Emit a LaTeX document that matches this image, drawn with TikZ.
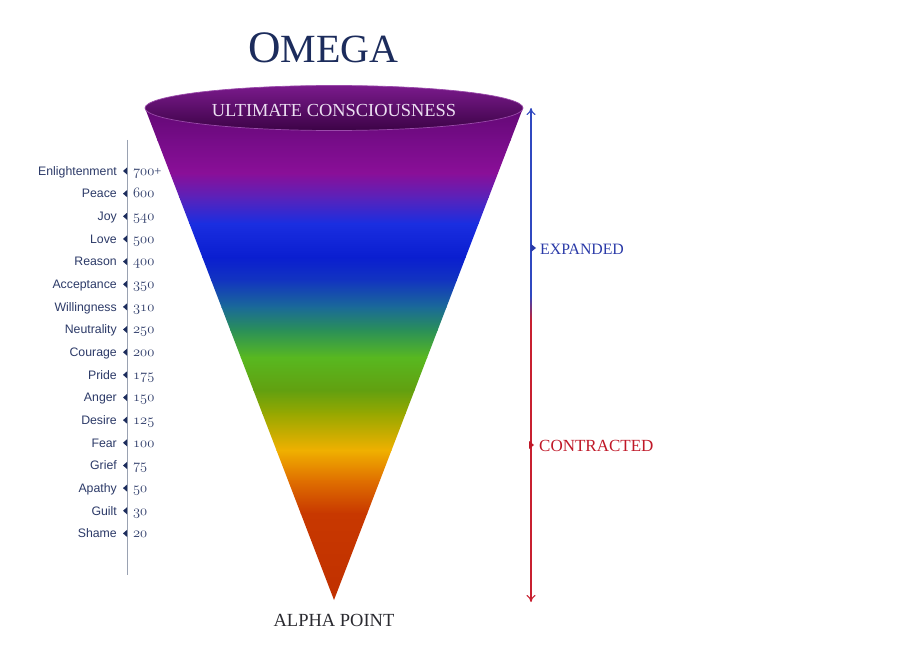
\documentclass[tikz,border=0pt]{standalone}
\usepackage{fontspec}
\newfontfamily\labelsf{Liberation Sans}
\newfontfamily\capsrm{Liberation Serif}
\usetikzlibrary{arrows.meta,shapes.geometric}
\definecolor{navy}{HTML}{1C2C5C}
\definecolor{lblcol}{HTML}{2C3A68}
\definecolor{scalecol}{HTML}{9AA2B2}
\definecolor{blueA}{HTML}{3048C0}
\definecolor{blueT}{HTML}{2A3AA8}
\definecolor{redA}{HTML}{C82030}
\definecolor{redT}{HTML}{C01828}
\definecolor{alphacol}{HTML}{2A2A30}
\definecolor{uccol}{HTML}{ECDFF2}
\definecolor{elltop}{HTML}{7A1A8C}
\definecolor{ellbot}{HTML}{3C0346}
\definecolor{ellrim}{HTML}{9A4AAA}
\definecolor{k1}{HTML}{5E0870}
\definecolor{k2}{HTML}{760C88}
\definecolor{k3}{HTML}{8A0F98}
\definecolor{k4}{HTML}{5A22BA}
\definecolor{k5}{HTML}{1A2EE0}
\definecolor{k6}{HTML}{0A1ED0}
\definecolor{k7}{HTML}{1234C0}
\definecolor{k8}{HTML}{1A6A98}
\definecolor{k9}{HTML}{2A9058}
\definecolor{k10}{HTML}{58B820}
\definecolor{k11}{HTML}{62A010}
\definecolor{k12}{HTML}{96A800}
\definecolor{k13}{HTML}{F0B000}
\definecolor{k14}{HTML}{E07000}
\definecolor{k15}{HTML}{C83800}
\definecolor{k16}{HTML}{C03000}
\newcommand\osnum[1]{{\fontsize{14.5}{14.5}\usefont{OML}{cmm}{m}{it}#1}}
\tikzset{
  lbl/.style={anchor=base east, inner sep=0pt, text=lblcol, font=\labelsf\fontsize{12.3}{12.3}\selectfont},
  numlbl/.style={anchor=base west, inner sep=0pt, text=lblcol, font=\capsrm\fontsize{12.5}{12.5}\selectfont},
  tick/.style={fill=navy},
  scaleline/.style={draw=scalecol, line width=0.8pt},
  arrowtip/.style={-{To[length=7pt,width=9pt]}},
}
\begin{document}
\begin{tikzpicture}[x=1pt,y=-1pt]
\useasboundingbox (0,0) rectangle (902,658);
\fill[white] (0,0) rectangle (902,658);

% cone
\coordinate (apex) at (334,600);
\coordinate (cl) at (145,108);
\coordinate (cr) at (523,108);
\begin{scope}
\clip (cl) -- (apex) -- (cr) -- cycle;
\foreach \ya/\ca/\yb/\cb in {
  100/k1/140/k2, 140/k2/173/k3, 173/k3/197/k4, 197/k4/223/k5,
  223/k5/257/k6, 257/k6/280/k7, 280/k7/307/k8, 307/k8/330/k9,
  330/k9/357/k10, 357/k10/390/k11, 390/k11/413/k12, 413/k12/450/k13,
  450/k13/480/k14, 480/k14/513/k15, 513/k15/605/k16}
  {\shade[top color=\ca, bottom color=\cb] (140,\ya) rectangle (530,\yb+0.7);}
\end{scope}

% top ellipse
\node[ellipse, minimum width=378pt, minimum height=45pt, inner sep=0pt,
      top color=elltop, bottom color=ellbot, draw=ellrim, line width=0.7pt] (top) at (334,108) {};
\node[anchor=base, inner sep=0pt, text=uccol, font=\capsrm\fontsize{18.4}{18.4}\selectfont] (uc) at (334,117) {ULTIMATE CONSCIOUSNESS};

% title
\node[anchor=base west, inner sep=0pt, text=navy, font=\capsrm] (omega) at (248,63)
  {\fontsize{45}{45}\selectfont O\fontsize{40}{40}\selectfont MEGA};

% alpha point
\node[anchor=base, inner sep=0pt, text=alphacol, font=\capsrm\fontsize{18.5}{18.5}\selectfont] (alpha) at (334,626) {ALPHA POINT};

% right arrow
\coordinate (atop) at (531,108);
\coordinate (abot) at (531,602);
\coordinate (m1) at (531,296);
\coordinate (m2) at (531,320);
\draw[blueA, line width=1.1pt, arrowtip] (m1) -- (atop);
\draw[redA, line width=1.1pt, arrowtip] (m2) -- (abot);
\shade[top color=blueA, bottom color=redA] (530.45,295.5) rectangle (531.55,320.5);
\fill[blueT] (531,244) -- (536,248) -- (531,252) -- cycle;
\fill[redT] (529,441) -- (534,445) -- (529,449) -- cycle;
\node[anchor=base west, inner sep=0pt, text=blueT, font=\capsrm\fontsize{15.8}{15.8}\selectfont] (exp) at (540,254) {EXPANDED};
\node[anchor=base west, inner sep=0pt, text=redT, font=\capsrm\fontsize{17}{17}\selectfont] (con) at (539,451) {CONTRACTED};

% left scale
\coordinate (st) at (127,140);
\coordinate (sb) at (127,575);
\draw[scaleline] (st) -- (sb);
\node[lbl] (l0) at (117,175.3) {Enlightenment};
\fill[tick] (123,171) -- (127,167.5) -- (127,174.5) -- cycle;
\node[numlbl] (n0) at (133,175.3) {\osnum{700}+};
\foreach \name/\num [count=\i from 1] in {Peace/600, Joy/540, Love/500, Reason/400,
   Acceptance/350, Willingness/310, Neutrality/250, Courage/200, Pride/175,
   Anger/150, Desire/125, Fear/100, Grief/75, Apathy/50, Guilt/30, Shame/20}
{
  \pgfmathsetmacro{\yy}{175.3+\i*22.65}
  \pgfmathsetmacro{\yc}{\yy-4.3}
  \node[lbl] (l\i) at (117,\yy) {\name};
  \fill[tick] (123,\yc) -- (127,\yc-3.5) -- (127,\yc+3.5) -- cycle;
  \node[numlbl] (n\i) at (133,\yy) {\osnum{\num}};
}
\end{tikzpicture}
\end{document}
